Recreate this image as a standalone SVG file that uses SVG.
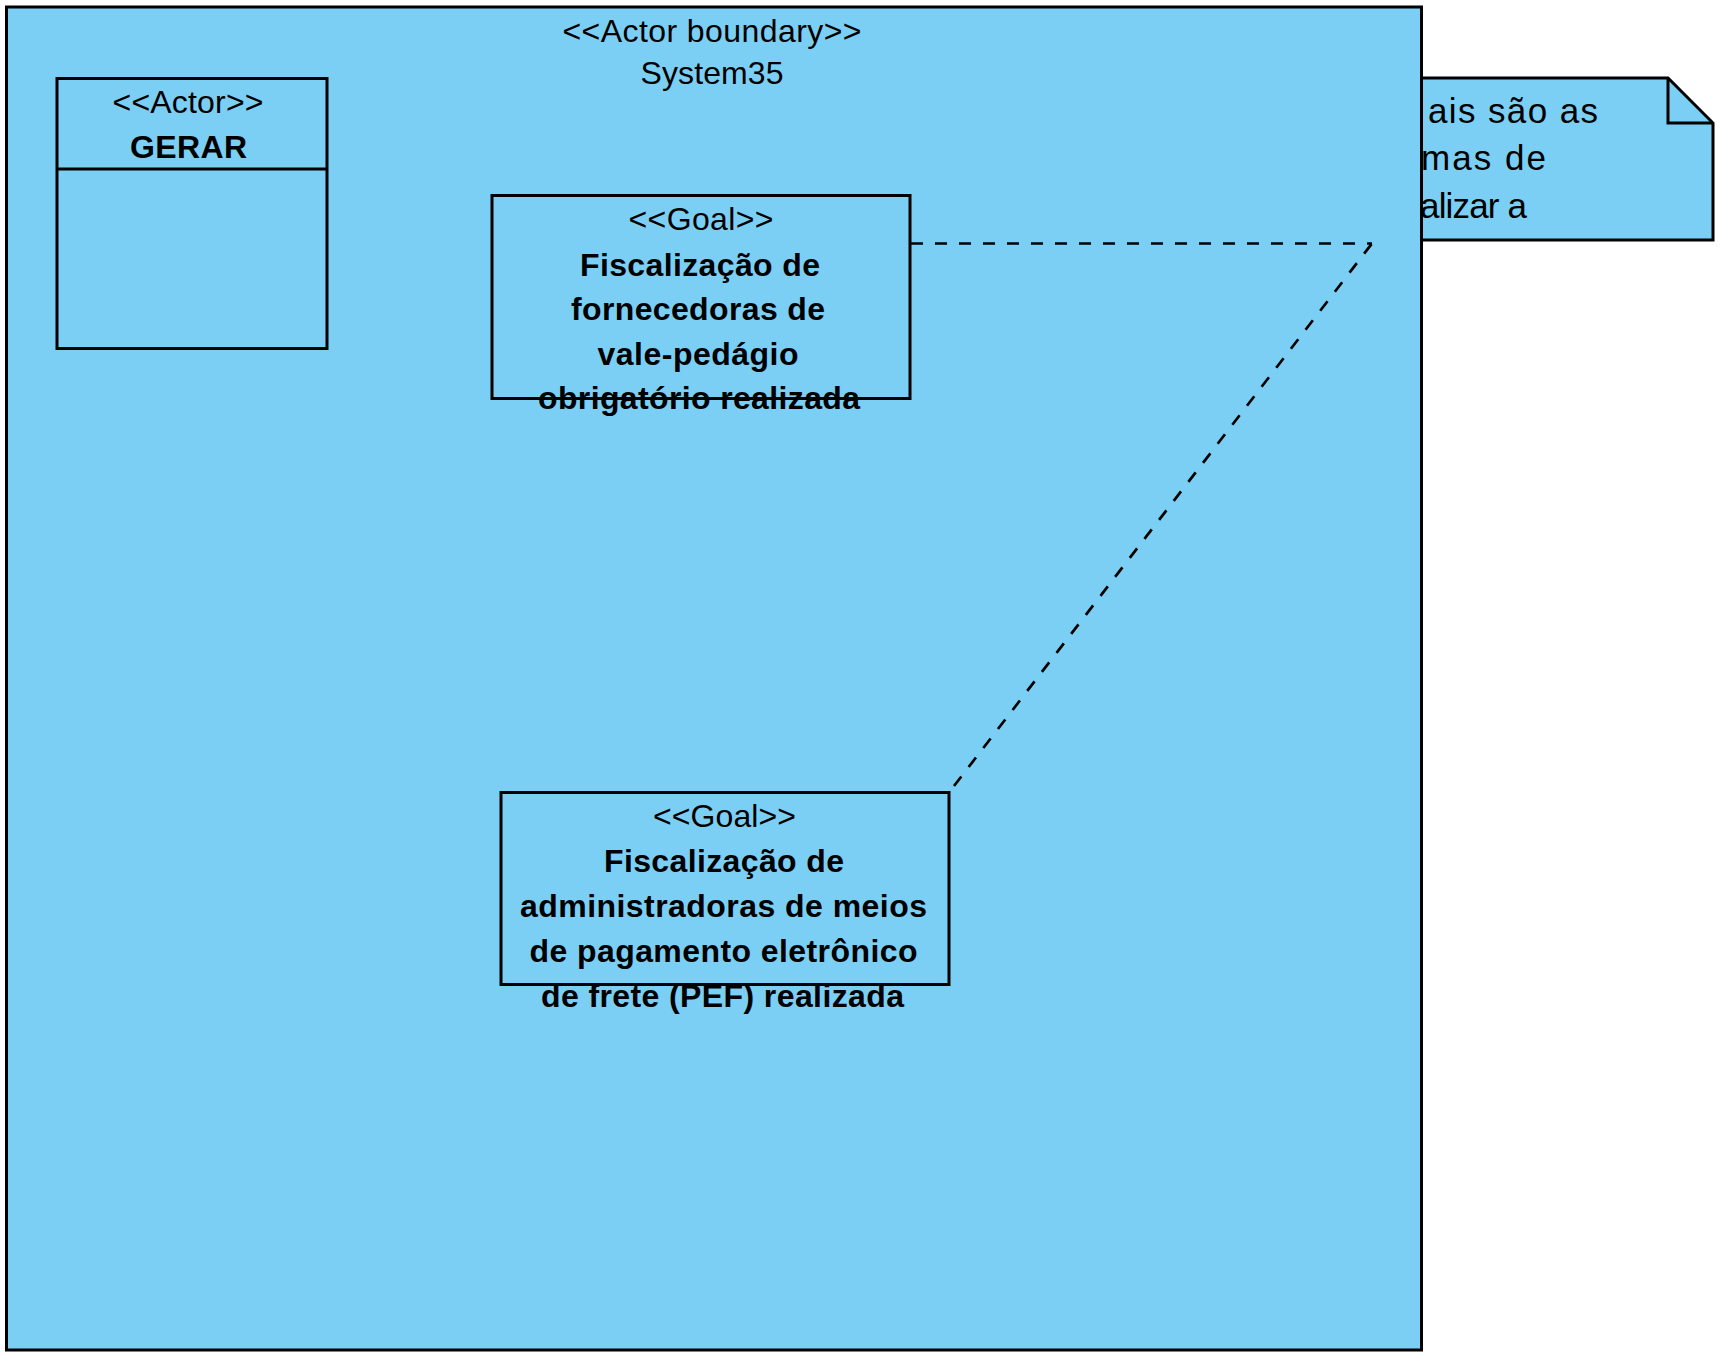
<svg xmlns="http://www.w3.org/2000/svg" width="1728" height="1365" viewBox="0 0 1728 1365">
<style>
.shape{fill:#7BCFF4;stroke:#000;stroke-width:3}
.t{font-family:"Liberation Sans",Arial,sans-serif;font-size:32px;fill:#000}
.c{text-anchor:middle}
.b{font-weight:bold}
.n{font-size:35px}
.conn{fill:none;stroke:#000;stroke-width:2.7;stroke-dasharray:12 12}
</style>
<rect width="1728" height="1365" fill="#fff"/>
<g id="note">
<polygon class="shape" points="1372,78 1668,78 1713,123 1713,240 1372,240"/>
<polyline fill="none" stroke="#000" stroke-width="3" points="1668,78 1668,123 1713,123"/>
<text class="t n" x="1428" y="123" textLength="170" lengthAdjust="spacing">ais são as</text>
<text class="t n" x="1421" y="170" textLength="125" lengthAdjust="spacing">mas de</text>
<text class="t n" x="1420" y="218" textLength="107" lengthAdjust="spacing">alizar a</text>
</g>
<g id="boundary">
<rect class="shape" x="6.5" y="7" width="1415" height="1343"/>
<text class="t c" x="712" y="42" textLength="299" lengthAdjust="spacing">&lt;&lt;Actor boundary&gt;&gt;</text>
<text class="t c" x="712" y="84" textLength="143" lengthAdjust="spacing">System35</text>
</g>
<g id="actor-gerar">
<rect class="shape" x="57" y="78.5" width="270" height="270"/>
<line x1="57" y1="169" x2="327" y2="169" stroke="#000" stroke-width="3"/>
<text class="t c" x="188" y="113" textLength="151" lengthAdjust="spacing">&lt;&lt;Actor&gt;&gt;</text>
<text class="t c b" x="188.5" y="158" textLength="117" lengthAdjust="spacing">GERAR</text>
</g>
<g id="goal-1">
<rect class="shape" x="492" y="195.5" width="418" height="203"/>
<text class="t c" x="701" y="230" textLength="145" lengthAdjust="spacing">&lt;&lt;Goal&gt;&gt;</text>
<text class="t c b" x="700" y="276" textLength="240" lengthAdjust="spacing">Fiscalização de</text>
<text class="t c b" x="698" y="320" textLength="254" lengthAdjust="spacing">fornecedoras de</text>
<text class="t c b" x="698" y="365" textLength="201" lengthAdjust="spacing">vale-pedágio</text>
<text class="t c b" x="699" y="409" textLength="322" lengthAdjust="spacing">obrigatório realizada</text>
</g>
<g id="goal-2">
<rect class="shape" x="501" y="792.5" width="448" height="192"/>
<text class="t c" x="724.5" y="827" textLength="143" lengthAdjust="spacing">&lt;&lt;Goal&gt;&gt;</text>
<text class="t c b" x="724" y="872" textLength="240" lengthAdjust="spacing">Fiscalização de</text>
<text class="t c b" x="723.5" y="917" textLength="407" lengthAdjust="spacing">administradoras de meios</text>
<text class="t c b" x="723.5" y="962" textLength="388" lengthAdjust="spacing">de pagamento eletrônico</text>
<text class="t c b" x="722.5" y="1007" textLength="363" lengthAdjust="spacing">de frete (PEF) realizada</text>
</g>
<g id="connectors">
<line class="conn" x1="911" y1="243.5" x2="1372" y2="243.5"/>
<line class="conn" x1="954" y1="786" x2="1372" y2="243.5"/>
</g>
</svg>
